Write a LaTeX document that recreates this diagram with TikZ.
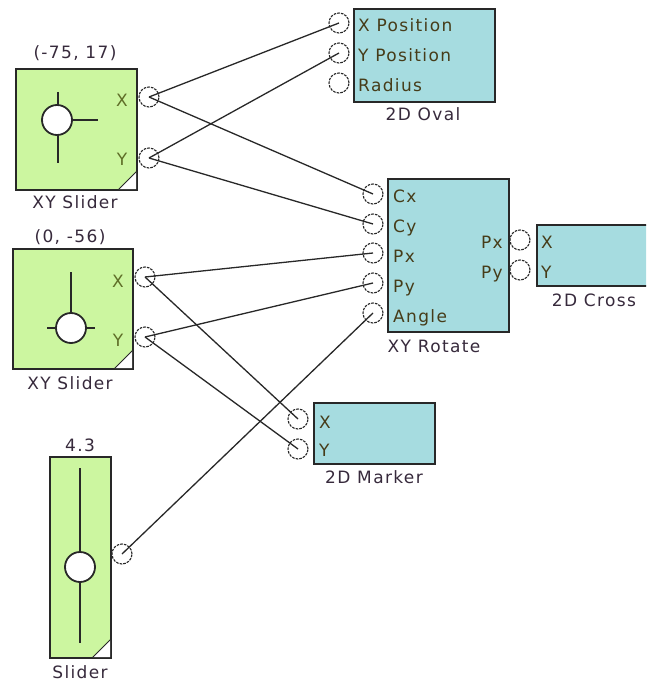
\documentclass[tikz,border=0pt]{standalone}
\usepackage{fontspec}
\usetikzlibrary{calc}
\newfontfamily\lblfont{DejaVu Sans}[LetterSpace=8]
\definecolor{gfill}{RGB}{204,246,160}
\definecolor{bfill}{RGB}{166,220,224}
\definecolor{edge}{RGB}{40,40,40}
\definecolor{ptxt}{RGB}{70,60,25}
\definecolor{ttxt}{RGB}{55,42,60}
\definecolor{stxt}{RGB}{95,110,40}
\newcommand{\cornermark}[1]{%
  \fill[white] ($(#1.south east)+(-19,-1.6)$) -- ($(#1.south east)+(-1.6,-1.6)$) -- ($(#1.south east)+(-1.6,-19)$) -- cycle;
  \draw[edge,line width=1pt] ($(#1.south east)+(-19,-1.6)$) -- ($(#1.south east)+(-1.6,-19)$);}
\begin{document}
\begin{tikzpicture}[x=1pt,y=-1pt,
 every node/.style={font=\lblfont\fontsize{17}{19}\selectfont},
 gbox/.style={draw=edge,fill=gfill,line width=1.8pt,inner sep=0,anchor=north west},
 bbox/.style={draw=edge,fill=bfill,line width=1.8pt,inner sep=0,anchor=north west},
 port/.style={circle,draw=edge,line width=1.1pt,dash pattern=on 2.6pt off 1.1pt,minimum size=20pt,inner sep=0},
 wire/.style={draw=edge,line width=1.3pt},
 knob/.style={circle,draw=edge,fill=white,line width=1.8pt,minimum size=30pt,inner sep=0},
 rod/.style={draw=edge,line width=1.8pt},
 plab/.style={text=ptxt,inner sep=0,text height=12pt,text depth=0pt},
 title/.style={text=ttxt,inner sep=0,text height=12pt,text depth=0pt},
 slab/.style={text=stxt,inner sep=0,text height=12pt,text depth=0pt}
]
\useasboundingbox[fill=white] (0,0) rectangle (646,684);
\clip (0,0) rectangle (646,684);

% ---------- boxes ----------
\node[gbox,minimum width=121pt,minimum height=121pt] (xy1) at (15,68) {};
\node[gbox,minimum width=120pt,minimum height=120pt] (xy2) at (12,248) {};
\node[gbox,minimum width=61pt,minimum height=201pt] (sl) at (49,456) {};
\node[bbox,minimum width=141pt,minimum height=93pt] (oval) at (353,8) {};
\node[bbox,minimum width=121pt,minimum height=153pt] (rot) at (387,178) {};
\node[bbox,minimum width=170pt,minimum height=61pt] (cross) at (536,224) {};
\node[bbox,minimum width=121pt,minimum height=61pt] (mark) at (313,402) {};

\cornermark{xy1}
\cornermark{xy2}
\cornermark{sl}

% ---------- slider knobs ----------
\draw[rod] (58,92) -- (58,163);
\draw[rod] (58,120) -- (98,120);
\node[knob] (k1) at (57,120) {};

\draw[rod] (71,272) -- (71,328);
\draw[rod] (47,328) -- (95,328);
\node[knob] (k2) at (71,328) {};

\draw[rod] (80,468) -- (80,643);
\node[knob] (k3) at (80,567) {};

% ---------- titles / values ----------
\node[title] (v1) at (75,53) {(-75, 17)};
\node[title] (t1) at (75,203) {XY Slider};
\node[title] (v2) at (70,237) {(0, -56)};
\node[title] (t2) at (70,383) {XY Slider};
\node[title] (v3) at (80,445) {4.3};
\node[title] (t3) at (80,672) {Slider};
\node[title] (t4) at (423,115) {2D Oval};
\node[title] (t5) at (434,346) {XY Rotate};
\node[title] (t6) at (594,300) {2D Cross};
\node[title] (t7) at (374,477) {2D Marker};

% ---------- port labels ----------
\node[slab] (l1x) at (122,101) {X};
\node[slab] (l1y) at (122,160) {Y};
\node[slab] (l2x) at (118,281) {X};
\node[slab] (l2y) at (118,340) {Y};

\node[plab,anchor=west] (lox) at (358,26) {X Position};
\node[plab,anchor=west] (loy) at (358,56) {Y Position};
\node[plab,anchor=west] (lor) at (358,86) {Radius};

\node[plab,anchor=west] (lrcx) at (393,197) {Cx};
\node[plab,anchor=west] (lrcy) at (393,227) {Cy};
\node[plab,anchor=west] (lrpx) at (393,256) {Px};
\node[plab,anchor=west] (lrpy) at (393,286) {Py};
\node[plab,anchor=west] (lran) at (393,316) {Angle};
\node[plab,anchor=east] (lrox) at (503,242) {Px};
\node[plab,anchor=east] (lroy) at (503,272) {Py};

\node[plab,anchor=west] (lcx) at (541,242) {X};
\node[plab,anchor=west] (lcy) at (541,272) {Y};

\node[plab,anchor=west] (lmx) at (319,422) {X};
\node[plab,anchor=west] (lmy) at (319,450) {Y};

% ---------- ports ----------
\node[port] (p1x) at (149,97) {};
\node[port] (p1y) at (149,158) {};
\node[port] (p2x) at (145,277) {};
\node[port] (p2y) at (145,337) {};
\node[port] (ps) at (122,554) {};

\node[port] (pox) at (339,23) {};
\node[port] (poy) at (339,53) {};
\node[port] (por) at (339,83) {};

\node[port] (prcx) at (373,194) {};
\node[port] (prcy) at (373,224) {};
\node[port] (prpx) at (373,253) {};
\node[port] (prpy) at (373,283) {};
\node[port] (pran) at (373,313) {};
\node[port] (prox) at (520,240) {};
\node[port] (proy) at (520,270) {};

\node[port] (pmx) at (298,419) {};
\node[port] (pmy) at (298,449) {};

% ---------- wires ----------
\draw[wire] (p1x.center) -- (pox.center);
\draw[wire] (p1x.center) -- (prcx.center);
\draw[wire] (p1y.center) -- (poy.center);
\draw[wire] (p1y.center) -- (prcy.center);
\draw[wire] (p2x.center) -- (prpx.center);
\draw[wire] (p2x.center) -- (pmx.center);
\draw[wire] (p2y.center) -- (prpy.center);
\draw[wire] (p2y.center) -- (pmy.center);
\draw[wire] (ps.center) -- (pran.center);
\end{tikzpicture}
\end{document}
